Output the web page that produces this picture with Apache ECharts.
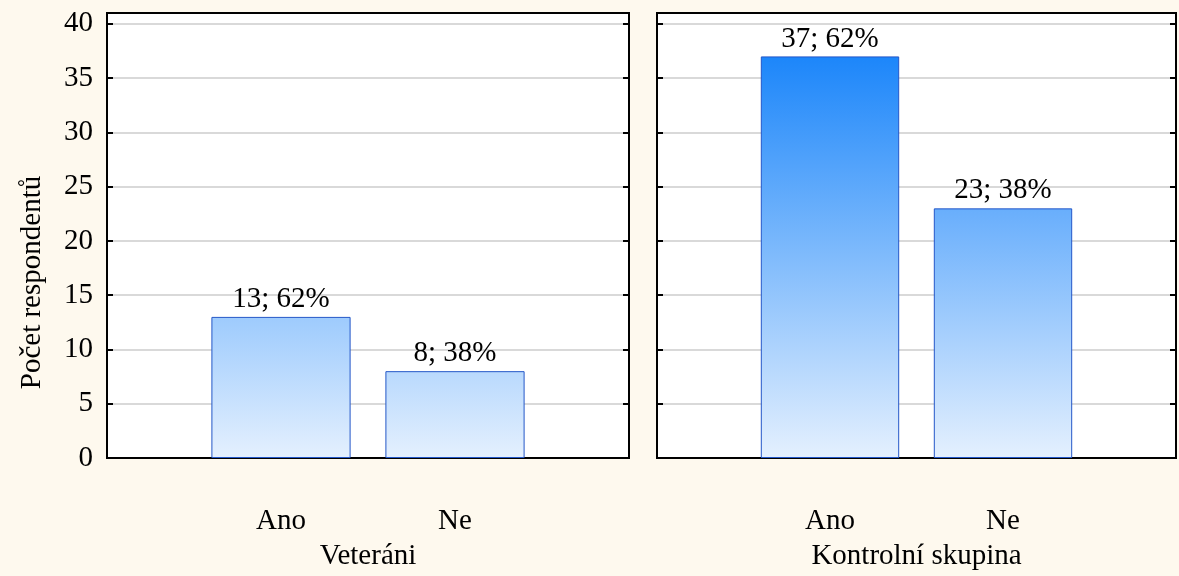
<!DOCTYPE html>
<html><head><meta charset="utf-8">
<script src="https://cdn.jsdelivr.net/npm/echarts@6/dist/echarts.min.js"></script>
<style>html,body{margin:0;padding:0;background:#FEF9EE;} #c{width:1179px;height:576px;}</style>
</head><body><div id="c"></div>
<script>
// ---- data ----
const categories = ['Ano', 'Ne'];
const groupNames = ['Veteráni', 'Kontrolní skupina'];
const veteraniCounts = [13, 8];
const veteraniPct = ['62%', '38%'];
const kontrolniCounts = [37, 23];
const kontrolniPct = ['62%', '38%'];
const yTicks = [0, 5, 10, 15, 20, 25, 30, 35, 40];
const yName = 'Počet respondentů';

// ---- styling helpers ----
const FONT = "'Liberation Serif', 'Times New Roman', serif";
const LIGHT = [228, 240, 254];
const DARK = [28, 134, 250];
const COLOR_TOP_VALUE = 37;
function colorAt(v) {
  const t = Math.max(0, Math.min(1, v / COLOR_TOP_VALUE));
  const c = LIGHT.map((l, i) => Math.round(l + (DARK[i] - l) * t));
  return 'rgb(' + c.join(',') + ')';
}
function barItem(v) {
  return {
    value: v,
    itemStyle: {
      color: { type: 'linear', x: 0, y: 0, x2: 0, y2: 1,
        colorStops: [{ offset: 0, color: colorAt(v) }, { offset: 1, color: colorAt(0) }] },
      borderColor: '#2457C8', borderWidth: 1
    }
  };
}
const xCats = [''].concat(categories, ['']);
function seriesData(counts) { return ['-'].concat(counts.map(barItem), ['-']); }

const groups = [
  { counts: veteraniCounts, pct: veteraniPct },
  { counts: kontrolniCounts, pct: kontrolniPct }
];

const grids = [
  { left: 107, top: 13, width: 522, height: 447 },
  { left: 657, top: 13, width: 521, height: 447 }
].map(g => Object.assign(g, { show: true, backgroundColor: '#fff', borderColor: '#000', borderWidth: 2, containLabel: false }));

const xAxes = groupNames.map((name, i) => ({
  type: 'category', gridIndex: i, data: xCats, boundaryGap: false,
  axisLine: { show: true, lineStyle: { color: '#000', width: 2 } },
  axisTick: { show: false },
  splitLine: { show: false },
  axisLabel: { fontFamily: FONT, fontSize: 29, color: '#000', margin: 49, interval: 0 },
  name: name, nameLocation: 'middle', nameGap: 84,
  nameTextStyle: { fontFamily: FONT, fontSize: 29, color: '#000' }
}));

const yAxes = [];
[0, 1].forEach(i => {
  const base = {
    type: 'value', gridIndex: i, min: 0, max: 41, interval: 5,
    axisLine: { show: true, lineStyle: { color: '#000', width: 2 } },
    axisTick: { show: true, inside: true, length: 6, lineStyle: { color: '#000', width: 2 }, customValues: yTicks }
  };
  yAxes.push(Object.assign({}, base, {
    position: 'left',
    axisLabel: { show: i === 0, fontFamily: FONT, fontSize: 29, color: '#000', margin: 14, customValues: yTicks },
    splitLine: { show: true, lineStyle: { color: '#D9D9D9', width: 2 } },
    name: i === 0 ? yName : '', nameLocation: 'middle', nameGap: 60,
    nameTextStyle: { fontFamily: FONT, fontSize: 29, color: '#000', padding: [0, 94, 0, 0] }
  }));
  yAxes.push(Object.assign({}, base, {
    position: 'right',
    axisLabel: { show: false, customValues: yTicks },
    splitLine: { show: false }
  }));
});

const series = groups.map((g, i) => ({
  type: 'bar', xAxisIndex: i, yAxisIndex: i * 2,
  barWidth: '80%',
  data: seriesData(g.counts),
  label: {
    show: true, position: 'top', distance: 3,
    fontFamily: FONT, fontSize: 29, color: '#000',
    formatter: p => p.value + '; ' + g.pct[p.dataIndex - 1]
  },
  silent: true
}));

const chart = echarts.init(document.getElementById('c'), null, { renderer: 'canvas' });
chart.setOption({
  backgroundColor: '#FEF9EE',
  animation: false,
  grid: grids,
  xAxis: xAxes,
  yAxis: yAxes,
  series: series
});
</script>
</body></html>
